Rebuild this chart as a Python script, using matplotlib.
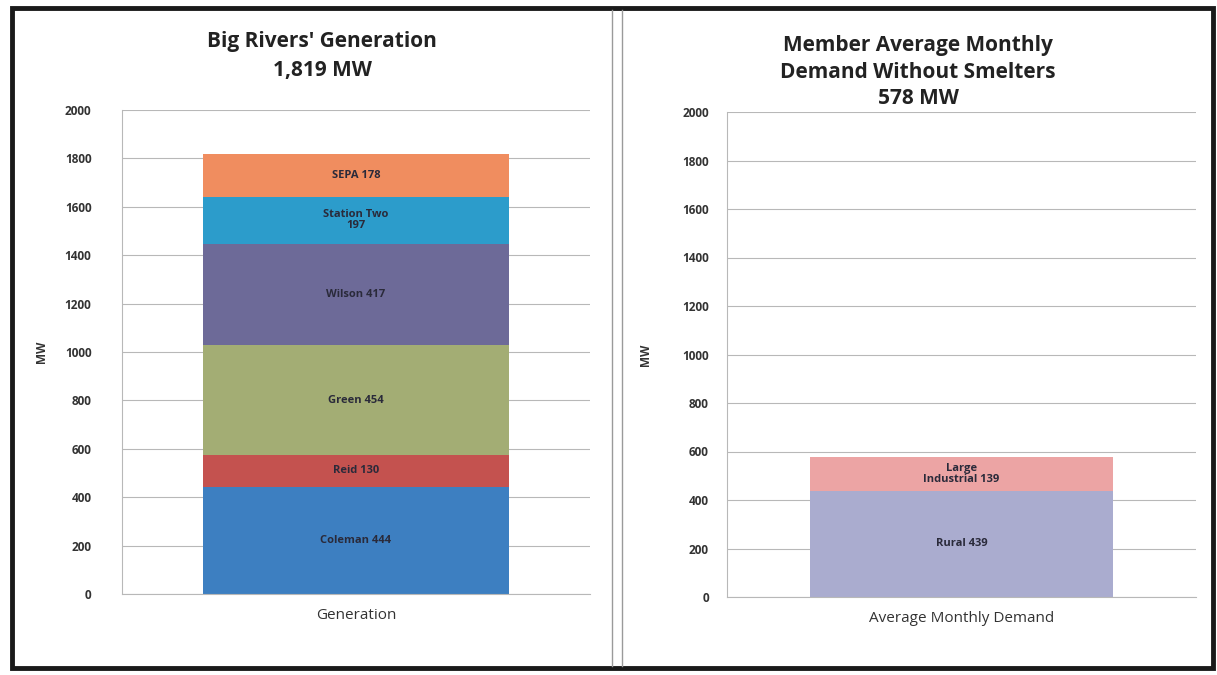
import matplotlib
matplotlib.use("Agg")
import matplotlib.pyplot as plt
from matplotlib.patches import Rectangle
from matplotlib.lines import Line2D

plt.rcParams['font.family'] = ['Open Sans', 'DejaVu Sans']

# left chart: generation stack (bottom to top)
gen_names = ["Coleman", "Reid", "Green", "Wilson", "Station Two", "SEPA"]
gen_labels = ["Coleman 444", "Reid 130", "Green 454", "Wilson 417", "Station Two\n197", "SEPA 178"]
gen_values = [444, 130, 454, 417, 197, 178]
gen_colors = ["#3d7fc1", "#c4524f", "#a3ad74", "#6d6a98", "#2c9ccb", "#f08d5f"]

# right chart: member demand stack
dem_labels = ["Rural 439", "Large\nIndustrial 139"]
dem_values = [439, 139]
dem_colors = ["#aaaccf", "#eca4a4"]

yticks = [0, 200, 400, 600, 800, 1000, 1200, 1400, 1600, 1800, 2000]

fig = plt.figure(figsize=(12.17, 6.75), dpi=100)
W, H = 1217, 675


def stacked(ax, cat, labels, values, colors, width, tpad, lpad):
    bottom = 0
    for lab, v, c in zip(labels, values, colors):
        ax.bar([cat], [v], bottom=bottom, width=width, color=c, zorder=2)
        ax.text(0, bottom + v / 2, lab, ha="center", va="center", fontsize=8,
                fontweight="bold", color="#2a2a3a", zorder=3, linespacing=1.0)
        bottom += v
    ax.set_ylim(0, 2000)
    ax.set_xlim(-0.5, 0.5)
    ax.set_yticks(yticks)
    ax.set_yticklabels([str(t) for t in yticks], fontsize=8.5, fontweight="bold", color="#333333")
    ax.set_xticks([0])
    ax.set_xticklabels([cat], fontsize=11, color="#333333")
    ax.tick_params(axis="y", length=0, pad=tpad)
    ax.tick_params(axis="x", length=0, pad=10)
    ax.yaxis.grid(True, color="#b8b8b8", linewidth=0.8, zorder=0)
    for s in ["top", "right"]:
        ax.spines[s].set_visible(False)
    ax.spines["left"].set_color("#b8b8b8")
    ax.spines["bottom"].set_color("#b8b8b8")
    ax.set_ylabel("MW", fontsize=8.5, fontweight="bold", color="#333333", labelpad=lpad)


ax1 = fig.add_axes([122 / W, 1 - 594 / H, 468 / W, 484 / H])
stacked(ax1, "Generation", gen_labels, gen_values, gen_colors, 0.652, 22, 12)
fig.text(322 / W, 1 - 56 / H, "Big Rivers' Generation\n1,819 MW", ha="center", va="center",
         fontsize=15, fontweight="bold", color="#222222", linespacing=1.55)

ax2 = fig.add_axes([727 / W, 1 - 597 / H, 469 / W, 485 / H])
stacked(ax2, "Average Monthly Demand", dem_labels, dem_values, dem_colors, 0.644, 13, 22)
fig.text(918 / W, 1 - 72 / H, "Member Average Monthly\nDemand Without Smelters\n578 MW",
         ha="center", va="center", fontsize=15, fontweight="bold", color="#222222", linespacing=1.35)

# scanned page frame
fig.patches.append(Rectangle((12 / W, 1 - 668 / H), 1201 / W, 660 / H, transform=fig.transFigure,
                             fill=False, edgecolor="#1a1a1a", linewidth=3.5))
for xp in [612, 622]:
    fig.lines.append(Line2D([xp / W, xp / W], [1 - 666 / H, 1 - 10 / H], transform=fig.transFigure,
                            color="#9a9a9a", linewidth=1.0))

fig.savefig("out.png", dpi=100)
